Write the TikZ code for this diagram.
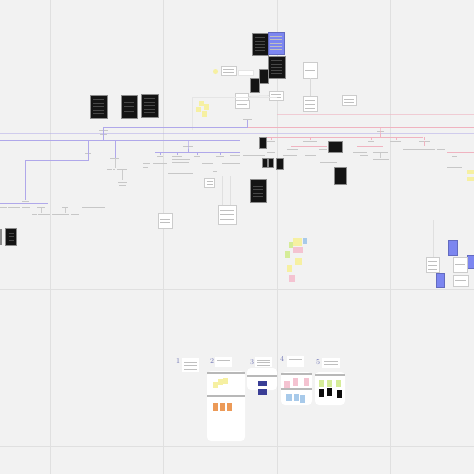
\documentclass[tikz,border=0pt]{standalone}
\usetikzlibrary{positioning,calc}
\definecolor{bgcol}{HTML}{F2F2F2}
\definecolor{gridcol}{HTML}{E0E0E0}
\definecolor{purpcol}{HTML}{B0A8EA}
\definecolor{pinkcol}{HTML}{F0B3C0}
\definecolor{bluecard}{HTML}{7C86F0}
\definecolor{stkyellow}{HTML}{F6F0A2}
\definecolor{stkpink}{HTML}{F4C3D1}
\definecolor{stkgreen}{HTML}{D5EC98}
\definecolor{stkblue}{HTML}{A8CAEA}
\definecolor{stkorange}{HTML}{EC9A58}
\definecolor{stknavy}{HTML}{3A3E96}
\definecolor{numcol}{HTML}{6C72B4}
\tikzset{
  gridline/.style={draw=gridcol, line width=0.6pt},
  purpl/.style={draw=purpcol, line width=0.6pt},
  pinkl/.style={draw=pinkcol, line width=0.6pt},
  tbar/.style={draw=black!22, line width=0.8pt},
  txtlines/.style={path picture={
      \foreach \k in {#1}
        \draw[black!25, line width=0.5pt]
          ($(path picture bounding box.north west)!\k!(path picture bounding box.south west)+(2pt,0pt)$) --
          ($(path picture bounding box.north east)!\k!(path picture bounding box.south east)+(-2pt,0pt)$);}},
  cardlines/.style={path picture={
      \foreach \k in {#1}
        \draw[black!72, line width=0.4pt]
          ($(path picture bounding box.north west)!\k!(path picture bounding box.south west)+(3pt,0pt)$) --
          ($(path picture bounding box.north east)!\k!(path picture bounding box.south east)+(-3pt,0pt)$);}},
  card/.style={fill=black!92, draw=black!45, line width=0.4pt, inner sep=0pt, outer sep=0pt},
  bcard/.style={fill=bluecard, draw=bluecard!80!black, line width=0.3pt, inner sep=0pt, outer sep=0pt},
  wbox/.style={fill=white, draw=black!20, line width=0.6pt, inner sep=0pt, outer sep=0pt},
  lbox/.style={fill=white, draw=none, inner sep=0pt, outer sep=0pt},
  column/.style={fill=white, draw=none, rounded corners=4pt, inner sep=0pt},
  numlabel/.style={text=numcol, font=\fontsize{7.5}{7.5}\selectfont, inner sep=0pt},
  sepbar/.style={draw=black!28, line width=1.4pt},
}
\begin{document}
\begin{tikzpicture}[x=1pt,y=-1pt]
  \fill[bgcol] (0,0) rectangle (474,474);
  \useasboundingbox (0,0) rectangle (474,474);

  % grid of the board
  \foreach \gx in {50,163,277,390}
    \draw[gridline] (\gx,0) -- (\gx,474);
  \foreach \gy in {289,446}
    \draw[gridline] (0,\gy) -- (474,\gy);

  % top cluster
  \node[card, cardlines={0.2,0.35,0.5,0.65,0.8}, minimum width=16pt, minimum height=22pt] (topa) at (260,44) {};
  \node[bcard, txtlines={0.2,0.35,0.5,0.65,0.8}, minimum width=16pt, minimum height=22pt] (topb) at (276,43) {};
  \node[card, cardlines={0.2,0.35,0.5,0.65,0.8}, minimum width=17pt, minimum height=22pt] (topc) at (276.5,67) {};
  \node[card, minimum width=9pt, minimum height=14pt] (sqa) at (263.5,76) {};
  \node[card, minimum width=9pt, minimum height=14pt] (sqb) at (254.5,85) {};
  \fill[stkyellow] (215.5,71.5) circle [radius=2.5];
  \node[wbox, txtlines={0.35,0.7}, minimum width=15pt, minimum height=9pt] (noteA) at (228.5,70.5) {};
  \node[wbox, draw=black!10, minimum width=15pt, minimum height=5pt] (noteB) at (245.5,72.5) {};
  \node[wbox, txtlines={0.5}, minimum width=14pt, minimum height=16pt] (noteC) at (310,70) {};
  \node[wbox, minimum width=13pt, minimum height=7pt] (noteD) at (242,96.5) {};
  \node[wbox, txtlines={0.5}, minimum width=14pt, minimum height=8pt] (noteE) at (242,104) {};
  \node[wbox, txtlines={0.4,0.7}, minimum width=14pt, minimum height=9pt] (noteF) at (276,95.5) {};
  \node[wbox, txtlines={0.3,0.55,0.8}, minimum width=14pt, minimum height=15pt] (noteG) at (310,103.5) {};
  \node[wbox, txtlines={0.4,0.7}, minimum width=14pt, minimum height=10pt] (noteH) at (349,100) {};
  \draw[draw=black!15, line width=0.5pt] (noteC) -- (noteG);
  \draw[draw=black!15, line width=0.5pt] (noteD) -- (noteF);

  % cards on the left
  \node[card, cardlines={0.2,0.35,0.5,0.65,0.8}, minimum width=17pt, minimum height=23pt] (cardl1) at (98.5,106.5) {};
  \node[card, cardlines={0.3,0.5,0.7}, minimum width=16pt, minimum height=23pt] (cardl2) at (129,106.5) {};
  \node[card, cardlines={0.2,0.35,0.5,0.65,0.8}, minimum width=17pt, minimum height=23pt] (cardl3) at (149.5,105.5) {};

  % frame with yellow notes
  \draw[draw=black!10, line width=0.5pt] (192,130) -- (192,97) -- (277,97);
  \fill[stkyellow] (199,101) rectangle (204,106);
  \fill[stkyellow] (204,104) rectangle (209,110);
  \fill[stkyellow] (196,107) rectangle (201,112);
  \fill[stkyellow] (202,111) rectangle (207,117);
  \draw[pinkl, draw opacity=0.6] (277,114) -- (474,114);

  % main lines
  \coordinate (mroot) at (247.5,120);
  \draw[tbar] (243,119) -- (252,119);
  \draw[purpl] (mroot) -- (247.5,127);
  \draw[purpl] (103.5,127) -- (247.5,127);
  \draw[pinkl] (247.5,127) -- (474,127);
  \draw[purpl, draw opacity=0.5] (0,133) -- (474,133);
  \draw[purpl] (0,140) -- (240,140);

  % left tree
  \coordinate (lroot) at (103.5,131);
  \draw[tbar] (99,130) -- (108,130);
  \draw[tbar] (100,134) -- (107,134);
  \draw[purpl] (103.5,127) -- (lroot) -- (103.5,140);
  \coordinate (l1) at (88,153);
  \draw[tbar] (85,153) -- (91,153);
  \draw[purpl] (88,140) -- (l1);
  \draw[purpl] (l1) -- (88,160) -- (25,160) -- (25,200);
  \coordinate (l2) at (25,201);
  \draw[tbar] (22,201) -- (29,201);
  \draw[purpl] (0,203) -- (48,203);
  \draw[tbar] (0,207) -- (7,207);
  \draw[tbar] (8,207) -- (20,207);
  \draw[tbar] (22,207) -- (30,207);
  \draw[tbar] (37,207) -- (45,207);
  \draw[tbar] (62,207) -- (68,207);
  \draw[tbar] (82,207) -- (105,207);
  \draw[draw=black!20, line width=0.5pt] (41,208) -- (41,213);
  \draw[draw=black!20, line width=0.5pt] (65,208) -- (65,213);
  \draw[tbar] (32,214) -- (37,214);
  \draw[tbar] (38,214) -- (50,214);
  \draw[tbar] (52,214) -- (69,214);
  \draw[tbar] (71,214) -- (79,214);
  \coordinate (l3) at (115,158);
  \draw[tbar] (110,158) -- (119,158);
  \draw[purpl] (115,140) -- (l3);
  \draw[draw=black!20, line width=0.5pt] (l3) -- (115,168);
  \draw[tbar] (107,169) -- (112,169);
  \draw[tbar] (113,169) -- (115,169);
  \draw[tbar] (117,169) -- (127,169);
  \draw[draw=black!20, line width=0.5pt] (122,170) -- (122,180);
  \draw[tbar] (118,182) -- (127,182);
  \draw[tbar] (119,185) -- (126,185);
  \coordinate (l4) at (188,146);
  \draw[tbar] (183,146) -- (193,146);
  \draw[purpl] (188,140) -- (l4) -- (188,152);
  \draw[purpl] (155,152) -- (240,152);
  \foreach \bx in {160,177,197,220}
    \draw[purpl] (\bx,152) -- (\bx,155);
  \draw[tbar] (157,156) -- (163,156);
  \draw[tbar] (172,156) -- (182,156);
  \draw[tbar] (172,159) -- (190,159);
  \draw[tbar] (172,162) -- (189,162);
  \draw[tbar] (194,156) -- (200,156);
  \draw[tbar] (216,156) -- (224,156);
  \draw[tbar] (143,163) -- (150,163);
  \draw[tbar] (153,163) -- (167,163);
  \draw[tbar] (202,163) -- (213,163);
  \draw[tbar] (222,163) -- (238,163);
  \draw[tbar] (143,167) -- (148,167);
  \draw[tbar] (168,173) -- (193,173);
  \draw[tbar] (213,171) -- (217,171);

  % right tree
  \coordinate (rroot) at (380,131);
  \draw[tbar] (377,131) -- (384,131);
  \draw[pinkl] (380,127) -- (rroot) -- (380,137);
  \draw[pinkl] (267,137) -- (423,137);
  \foreach \bx in {271,310,371,396,424}
    \draw[pinkl] (\bx,137) -- (\bx,140);
  \draw[tbar] (267,141) -- (275,141);
  \draw[tbar] (303,141) -- (317,141);
  \draw[tbar] (368,141) -- (374,141);
  \draw[tbar] (390,141) -- (401,141);
  \draw[tbar] (419,141) -- (430,141);
  \draw[pinkl] (291,146) -- (327,146);
  \draw[tbar] (287,149) -- (298,149);
  \draw[tbar] (319,149) -- (327,149);
  \draw[tbar] (283,155) -- (297,155);
  \draw[tbar] (305,155) -- (316,155);
  \draw[tbar] (267,152) -- (275,152);
  \draw[tbar] (243,155) -- (265,155);
  \draw[tbar] (230,155) -- (240,155);
  \draw[tbar] (234,163) -- (240,163);
  \draw[pinkl] (357,146) -- (383,146);
  \draw[tbar] (353,152) -- (367,152);
  \draw[tbar] (360,155) -- (368,155);
  \draw[tbar] (373,152) -- (388,152);
  \draw[draw=black!20, line width=0.5pt] (380,153) -- (380,158);
  \draw[tbar] (373,159) -- (389,159);
  \draw[pinkl] (424,141) -- (424,146);
  \draw[tbar] (403,149) -- (435,149);
  \draw[tbar] (437,149) -- (445,149);
  \draw[pinkl] (447,152) -- (474,152);
  \draw[tbar] (452,156) -- (457,156);
  \draw[tbar] (447,167) -- (462,167);
  \draw[tbar] (320,162) -- (337,162);
  \fill[stkyellow] (467,170) rectangle (474,174);
  \fill[stkyellow] (467,177) rectangle (474,181);

  % black blocks in the middle
  \node[card, minimum width=7pt, minimum height=11pt] (blka) at (262.5,142.5) {};
  \node[card, minimum width=5pt, minimum height=9pt] (blkb) at (264.5,162.5) {};
  \node[card, minimum width=5pt, minimum height=9pt] (blkc) at (270.5,162.5) {};
  \node[card, minimum width=7pt, minimum height=11pt] (blkd) at (279.5,163.5) {};
  \node[card, minimum width=14pt, minimum height=11pt] (blke) at (335,146.5) {};
  \node[card, minimum width=12pt, minimum height=17pt] (blkf) at (340,175.5) {};
  \node[card, cardlines={0.3,0.45,0.6,0.75}, minimum width=16pt, minimum height=23pt] (blkg) at (258,190.5) {};

  % boxes below the left tree
  \node[wbox, txtlines={0.4,0.65}, minimum width=10pt, minimum height=9pt] (boxa) at (209.5,182.5) {};
  \node[wbox, txtlines={0.3,0.5,0.75}, minimum width=18pt, minimum height=19pt] (boxb) at (227,214.5) {};
  \node[wbox, txtlines={0.4,0.6}, minimum width=14pt, minimum height=15pt] (boxc) at (165,220.5) {};
  \draw[draw=black!12, line width=0.5pt] (222,176) -- (222,205);
  \draw[draw=black!12, line width=0.5pt] (230,176) -- (230,205);

  % card on the left edge
  \node[card, cardlines={0.3,0.5,0.7}, minimum width=11pt, minimum height=17pt] (cardedge) at (11,236.5) {};
  \fill[black!45] (0,229) rectangle (2,245);

  % sticky notes in the middle
  \fill[stkyellow] (293,238) rectangle (302,246);
  \fill[stkblue] (303,238) rectangle (307,244);
  \fill[stkpink] (293,247) rectangle (303,253);
  \fill[stkgreen] (289,242) rectangle (293,248);
  \fill[stkgreen] (285,251) rectangle (290,258);
  \fill[stkyellow] (295,258) rectangle (302,265);
  \fill[stkyellow] (287,265) rectangle (292,272);
  \fill[stkpink] (289,275) rectangle (295,282);

  % right group
  \draw[draw=black!12, line width=0.5pt] (433,220) -- (433,257);
  \node[bcard, minimum width=9pt, minimum height=15pt] (bluea) at (452.5,247.5) {};
  \node[bcard, minimum width=7pt, minimum height=13pt] (blueb) at (471,261.5) {};
  \node[bcard, minimum width=8pt, minimum height=14pt] (bluec) at (440,280) {};
  \node[wbox, txtlines={0.3,0.55,0.8}, minimum width=13pt, minimum height=15pt] (boxd) at (432.5,264.5) {};
  \node[wbox, txtlines={0.5}, minimum width=14pt, minimum height=15pt] (boxe) at (460,264.5) {};
  \node[wbox, txtlines={0.5}, minimum width=15pt, minimum height=11pt] (boxf) at (460.5,280.5) {};

  % columns at the bottom
  \node[numlabel] (num1) at (178,361) {1};
  \node[lbox, txtlines={0.3,0.55,0.8}, minimum width=17pt, minimum height=14pt] (lab1) at (190.5,365) {};
  \node[numlabel] (num2) at (212,361) {2};
  \node[lbox, txtlines={0.3}, minimum width=17pt, minimum height=10pt] (lab2) at (223.5,362) {};
  \node[column, minimum width=38pt, minimum height=70pt] (col2) at (226,406) {};
  \draw[sepbar] (207,373) -- (245,373);
  \draw[sepbar] (207,396) -- (245,396);
  \fill[stkyellow] (213,382) rectangle (218,388);
  \fill[stkyellow] (218,379) rectangle (223,385);
  \fill[stkyellow] (223,378) rectangle (228,384);
  \foreach \sx in {213,220,227}
    \fill[stkorange] (\sx,403) rectangle (\sx+5,411);
  \node[numlabel] (num3) at (252,362) {3};
  \node[lbox, txtlines={0.3,0.55,0.8}, minimum width=17pt, minimum height=10pt] (lab3) at (263.5,362) {};
  \node[column, minimum width=30pt, minimum height=22pt] (col3) at (262,379) {};
  \draw[sepbar] (247,376) -- (277,376);
  \fill[stknavy] (258,381) rectangle (267,386);
  \fill[stknavy] (258,389) rectangle (267,395);
  \node[numlabel] (num4) at (282,359) {4};
  \node[lbox, txtlines={0.3}, minimum width=17pt, minimum height=11pt] (lab4) at (295.5,361.5) {};
  \node[column, minimum width=31pt, minimum height=33pt] (col4) at (296.5,388.5) {};
  \draw[sepbar] (281,374) -- (312,374);
  \draw[sepbar] (281,389) -- (312,389);
  \fill[stkpink] (284,381) rectangle (290,388);
  \fill[stkpink] (293,378) rectangle (298,386);
  \fill[stkpink] (304,378) rectangle (309,386);
  \fill[stkblue] (286,394) rectangle (292,401);
  \fill[stkblue] (294,394) rectangle (299,401);
  \fill[stkblue] (300,395) rectangle (305,403);
  \node[numlabel] (num5) at (318,362) {5};
  \node[lbox, txtlines={0.3,0.6}, minimum width=18pt, minimum height=10pt] (lab5) at (331,363) {};
  \node[column, minimum width=30pt, minimum height=33pt] (col5) at (330,388.5) {};
  \draw[sepbar] (315,375) -- (345,375);
  \foreach \sx/\sy in {319/380,327/380,336/380}
    \fill[stkgreen] (\sx,\sy) rectangle (\sx+5,\sy+7);
  \foreach \sx/\sy in {319/389,327/388,337/390}
    \fill[black!95] (\sx,\sy) rectangle (\sx+5,\sy+8);
\end{tikzpicture}
\end{document}
